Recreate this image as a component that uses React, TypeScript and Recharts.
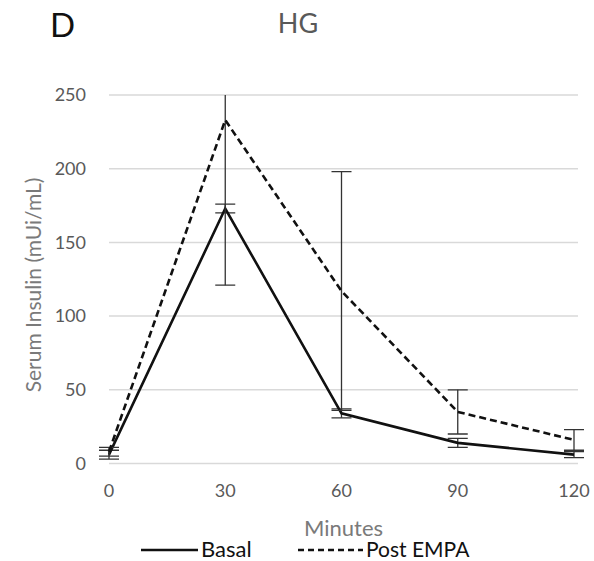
import React from 'react';
import { LineChart, Line, XAxis, YAxis, CartesianGrid, ErrorBar, Legend, Label, Customized } from 'recharts';

const minutes = [0, 30, 60, 90, 120];
const basal = [6, 173, 34, 14, 6];
const basalErr = [3, 3, 3, 3, 2];
const postEmpa = [8, 233, 117, 35, 16];
const postEmpaErr = [3, 112, 81, 15, 7];
const xTicks = [0, 30, 60, 90, 120];
const yTicks = [0, 50, 100, 150, 200, 250];

const data = minutes.map((m, i) => ({
  minute: m,
  basal: basal[i],
  basalErr: basalErr[i],
  post: postEmpa[i],
  postErr: postEmpaErr[i],
}));

const FONT = 'Lato, "Noto Sans", sans-serif';
const TICK = '#595959';
const LABEL = '#7a7a7a';

const LegendContent = () => (
  <svg width={594} height={30} style={{ display: 'block' }}>
    <line x1={141} x2={198} y1={15} y2={15} stroke="#111" strokeWidth={2.6} />
    <text x={201} y={22} fontFamily={FONT} fontSize={22} fill="#111">Basal</text>
    <line x1={298} x2={363} y1={15} y2={15} stroke="#111" strokeWidth={2.6} strokeDasharray="6 4" />
    <text x={366} y={22} fontFamily={FONT} fontSize={21} fill="#111">Post EMPA</text>
  </svg>
);

const YLabel = () => {
  const cx = 32;
  const cy = 285;
  return (
    <text
      x={cx}
      y={cy}
      transform={`rotate(-90 ${cx} ${cy})`}
      textAnchor="middle"
      dominantBaseline="central"
      fontFamily={FONT}
      fontSize={21}
      fill={LABEL}
    >
      Serum Insulin (mUi/mL)
    </text>
  );
};

const PlotClip = (props: any) => {
  const o = props.offset || { left: 109, top: 95, width: 469, height: 368.5 };
  return (
    <defs>
      <clipPath id="plot-area-clip">
        <rect x={o.left - 10} y={o.top} width={o.width + 20} height={o.height + 10} />
      </clipPath>
    </defs>
  );
};

export default function App() {
  return (
    <div style={{ position: 'absolute', left: 0, top: 0, width: 594, height: 561, background: '#fff' }}>
      <div style={{ position: 'absolute', left: 50, top: 4, fontFamily: FONT, fontSize: 33, color: '#111', lineHeight: '40px' }}>D</div>
      <div style={{ position: 'absolute', left: 0, width: 596, top: 6, textAlign: 'center', fontFamily: FONT, fontSize: 27, color: TICK, lineHeight: '34px' }}>HG</div>
      <LineChart
        width={594}
        height={561}
        data={data}
        margin={{ top: 95, right: 16, bottom: 25.5, left: 0 }}
        style={{ position: 'absolute', left: 0, top: 0 }}
      >
        <Customized component={PlotClip} />
        <CartesianGrid vertical={false} stroke="#d9d9d9" strokeWidth={1.5} />
        <XAxis
          dataKey="minute"
          type="number"
          domain={[0, 120]}
          ticks={xTicks}
          axisLine={false}
          tickLine={false}
          tickMargin={15}
          height={72}
          padding={{ left: 0, right: 4 }}
          tick={{ fill: TICK, fontSize: 18, fontFamily: FONT }}
        >
          <Label value="Minutes" position="insideBottom" offset={0} fill={LABEL} fontSize={22} fontFamily={FONT} />
        </XAxis>
        <YAxis
          type="number"
          domain={[0, 250]}
          ticks={yTicks}
          allowDataOverflow
          axisLine={false}
          tickLine={false}
          width={109}
          tickMargin={17}
          tick={{ fill: TICK, fontSize: 18, fontFamily: FONT }}
        >
          <Label content={<YLabel />} />
        </YAxis>
        <Line
          type="linear"
          dataKey="basal"
          name="Basal"
          stroke="#111"
          strokeWidth={2.6}
          dot={false}
          isAnimationActive={false}
        >
          <ErrorBar dataKey="basalErr" width={10} stroke="#333" strokeWidth={1.3} direction="y" clipPath="url(#plot-area-clip)" />
        </Line>
        <Line
          type="linear"
          dataKey="post"
          name="Post EMPA"
          stroke="#111"
          strokeWidth={2.6}
          strokeDasharray="7 4"
          dot={false}
          isAnimationActive={false}
        >
          <ErrorBar dataKey="postErr" width={10} stroke="#333" strokeWidth={1.3} direction="y" clipPath="url(#plot-area-clip)" />
        </Line>
        <Legend
          layout="horizontal"
          verticalAlign="middle"
          align="center"
          content={<LegendContent />}
          wrapperStyle={{ position: 'absolute', left: 0, top: 535, width: 594, height: 30 }}
        />
      </LineChart>
    </div>
  );
}
